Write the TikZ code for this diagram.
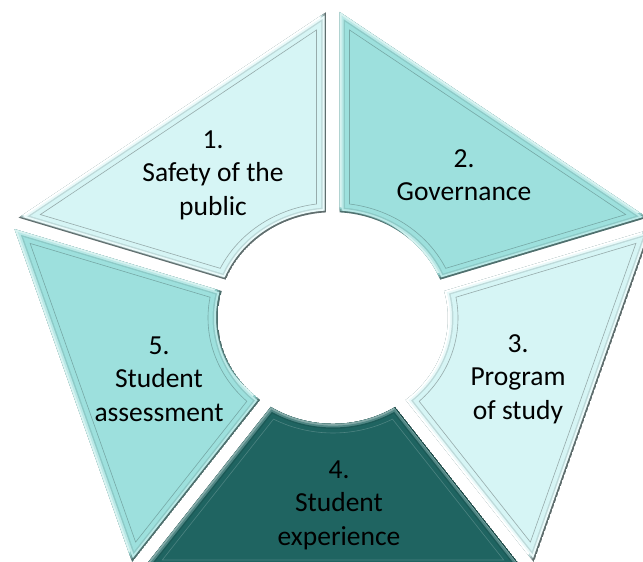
\documentclass[tikz,border=0pt]{standalone}
\usepackage{fontspec}
\setmainfont{Carlito}
\usetikzlibrary{calc}

\definecolor{palecyan}{RGB}{214,245,245}
\definecolor{midcyan}{RGB}{157,224,221}
\definecolor{deepteal}{RGB}{31,100,97}

% gap half width, edge distance from centre, hole radius
\newcommand{\segGap}{6.5}
\newcommand{\segEdge}{273}
\newcommand{\holeR}{115}

% #1 start angle, #2 inset, #3 path options
\newcommand{\pentseg}[3]{%
  \path[#3] ({#1+asin((\segGap+#2)/(\holeR+#2))}:{\holeR+#2})
    -- ($({#1}:{(\segEdge-#2)/cos(36)-(\segGap+#2)*tan(36)})+({#1+90}:{\segGap+#2})$)
    -- ($({#1+72}:{(\segEdge-#2)/cos(36)-(\segGap+#2)*tan(36)})+({#1-18}:{\segGap+#2})$)
    -- ({#1+72-asin((\segGap+#2)/(\holeR+#2))}:{\holeR+#2})
    arc[start angle={#1+72-asin((\segGap+#2)/(\holeR+#2))},
        end angle={#1+asin((\segGap+#2)/(\holeR+#2))}, radius={\holeR+#2}]
    -- cycle;}

% #1 angle, #2 fill, #3 shadow, #4 highlight, #5 inner line
\newcommand{\bevelseg}[5]{%
  \begin{scope}
    \pentseg{#1}{0}{clip}
    \pentseg{#1}{0}{fill=#3}
    \pentseg{#1}{0}{fill=#3!55!#2, shift={(-2,2)}}
    \pentseg{#1}{0}{fill=#3!20!#2, shift={(-4,4)}}
    \pentseg{#1}{0}{fill=#4, shift={(-6,6)}}
    \pentseg{#1}{2}{fill=#4!50!#2}
    \pentseg{#1}{4}{fill=#3!20!#2}
    \pentseg{#1}{5.5}{fill=#2}
    \pentseg{#1}{10}{draw=#5, line width=0.6pt}
  \end{scope}}

\begin{document}
\begin{tikzpicture}[x=1pt, y=1pt,
    lbl/.style={align=center, inner sep=0pt, font=\fontsize{27.5}{33.5}\selectfont}]
  \useasboundingbox (0,0) rectangle (643,562);
  \clip (0,0) rectangle (643,562);

  \begin{scope}[shift={(333,244)}, yscale=0.92]
    \bevelseg{90}{palecyan}{palecyan!45!black}{white}{palecyan!70!black}
    \bevelseg{18}{midcyan}{midcyan!50!black}{midcyan!40!white}{midcyan!75!black}
    \bevelseg{-54}{palecyan}{palecyan!45!black}{white}{palecyan!70!black}
    \bevelseg{-126}{deepteal}{deepteal!50!black}{deepteal!55!white}{deepteal!80!white}
    \bevelseg{162}{midcyan}{midcyan!50!black}{midcyan!40!white}{midcyan!75!black}
  \end{scope}

  \node (t1) [lbl] at (213,387) {1.\\Safety of the\\public};
  \node (t2) [lbl] at (464,387) {2.\\Governance};
  \node (t3) [lbl] at (518,183) {3.\\Program\\of study};
  \node (t4) [lbl] at (339,57) {4.\\Student\\experience};
  \node (t5) [lbl] at (159,183) {5.\\Student\\assessment};
\end{tikzpicture}
\end{document}
